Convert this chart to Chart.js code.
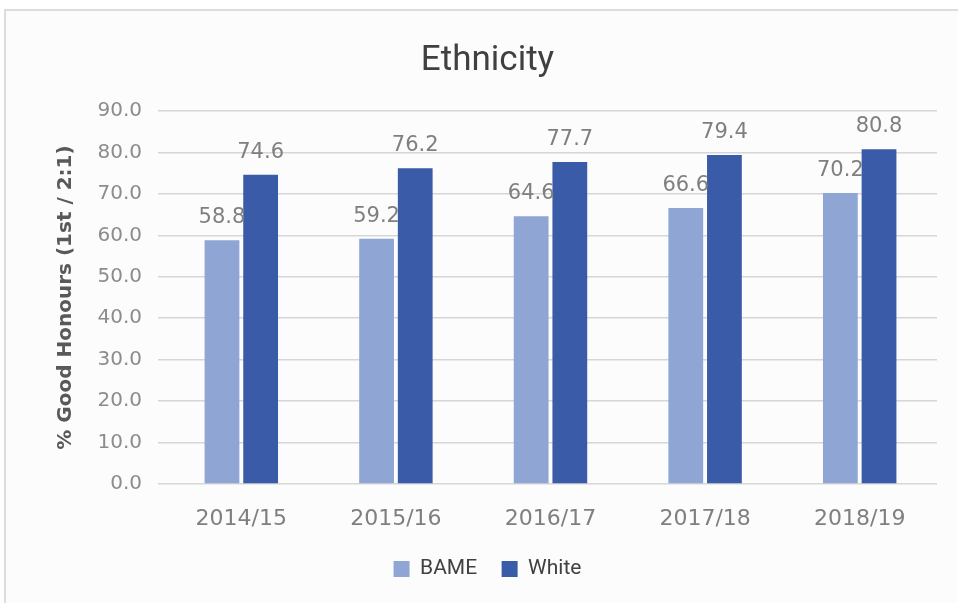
<!DOCTYPE html>
<html>
<head>
<meta charset="utf-8">
<script src="https://cdn.jsdelivr.net/npm/chart.js@4.4.1/dist/chart.umd.min.js"></script>
<style>
  html, body { margin: 0; padding: 0; background: #ffffff; overflow: hidden; }
  #frame {
    position: absolute; left: 4px; top: 9px; width: 954px; height: 594px;
    border-left: 2px solid #dcdcdc; border-top: 2px solid #dcdcdc;
    background: #fcfcfc; box-sizing: border-box;
  }
  #wrap { position: absolute; left: 38px; top: 0; width: 920px; height: 603px; }
</style>
</head>
<body>
<div id="frame"></div>
<div id="wrap"><canvas id="chart" width="920" height="603"></canvas></div>
<script>
// ---- data ----
const years = ['2014/15', '2015/16', '2016/17', '2017/18', '2018/19'];
const bame  = [58.8, 59.2, 64.6, 66.6, 70.2];
const white = [74.6, 76.2, 77.7, 79.4, 80.8];

const C = {
  bame : '#8fa6d4',
  white: '#3a5ba8',
  grid : '#d6d6d6',
  tick : '#8c8c8c',
  label: '#7f7f7f',
  title: '#404040'
};

// value labels drawn above each bar
const valueLabels = {
  id: 'valueLabels',
  afterDatasetsDraw(chart) {
    const ctx = chart.ctx;
    ctx.save();
    ctx.font = '21px "DejaVu Sans"';
    ctx.fillStyle = C.label;
    ctx.textAlign = 'center';
    ctx.textBaseline = 'alphabetic';
    chart.data.datasets.forEach((ds, i) => {
      chart.getDatasetMeta(i).data.forEach((bar, j) => {
        ctx.fillText(ds.data[j].toFixed(1), bar.x, bar.y - 17);
      });
    });
    ctx.restore();
  }
};

new Chart(document.getElementById('chart').getContext('2d'), {
  type: 'bar',
  data: {
    labels: years,
    datasets: [
      { label: 'BAME',  data: bame,  backgroundColor: C.bame,
        categoryPercentage: 0.5, barPercentage: 0.9 },
      { label: 'White', data: white, backgroundColor: C.white,
        categoryPercentage: 0.5, barPercentage: 0.9 }
    ]
  },
  options: {
    responsive: false,
    animation: false,
    layout: { padding: { left: 0, right: 21, top: 0, bottom: 13.5 } },
    plugins: {
      title: {
        display: true,
        text: 'Ethnicity',
        color: C.title,
        font: { family: 'Roboto', size: 35, weight: 'normal' },
        padding: { top: 40, bottom: 29 }
      },
      legend: {
        position: 'bottom',
        labels: {
          boxWidth: 16, boxHeight: 16, padding: 24.5,
          color: C.title,
          font: { family: 'Roboto', size: 21 }
        }
      },
      tooltip: { enabled: false }
    },
    scales: {
      x: {
        grid  : { display: false, drawTicks: false },
        border: { display: false },
        ticks : { color: C.label, padding: 22, font: { family: 'DejaVu Sans', size: 22 } },
        afterFit: s => { s.height = 50; }
      },
      y: {
        min: 0, max: 90,
        grid  : { color: C.grid, lineWidth: 1.5, tickLength: 6 },
        border: { display: false },
        ticks : {
          stepSize: 10, padding: 16, color: C.tick,
          font: { family: 'DejaVu Sans', size: 20 },
          callback: v => v.toFixed(1)
        },
        title: {
          display: true,
          text: '% Good Honours (1st / 2:1)',
          color: '#595959',
          font: { family: 'DejaVu Sans', size: 20, weight: 'bold' },
          padding: { top: 16, bottom: 8 }
        },
        afterFit: s => { s.width = 126; }
      }
    }
  },
  plugins: [valueLabels]
});
</script>
</body>
</html>
